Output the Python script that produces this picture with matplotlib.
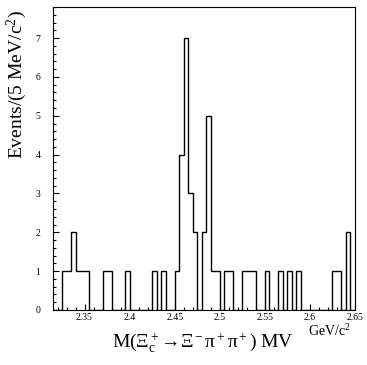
import numpy as np
import matplotlib
matplotlib.use("Agg")
import matplotlib.pyplot as plt
from matplotlib.ticker import MultipleLocator, FormatStrFormatter

plt.rcParams['font.family'] = ['Liberation Serif', 'DejaVu Serif']
plt.rcParams['mathtext.fontset'] = 'stix'

# histogramme : 67 bins de 5 MeV entre 2.315 et 2.65 GeV
x_min = 2.315
x_max = 2.65
largeur_bin = 0.005
comptes = [0, 0, 1, 1, 2, 1, 1, 1, 0, 0,
           0, 1, 1, 0, 0, 0, 1, 0, 0, 0,
           0, 0, 1, 0, 1, 0, 0, 1, 4, 7,
           3, 2, 0, 2, 5, 1, 1, 0, 1, 1,
           0, 0, 1, 1, 1, 0, 0, 1, 0, 0,
           1, 0, 1, 0, 1, 0, 0, 0, 0, 0,
           0, 0, 1, 1, 0, 2, 0]
bords = x_min + largeur_bin * np.arange(len(comptes) + 1)

fig = plt.figure(figsize=(3.67, 3.65), dpi=100)
ax = fig.add_axes([0.1444, 0.1507, 0.8229, 0.8301])

ax.stairs(comptes, bords, color='black', linewidth=1.0)

ax.set_xlim(x_min, x_max)
ax.set_ylim(0, 7.8)

ax.xaxis.set_major_locator(MultipleLocator(0.05))
ax.xaxis.set_minor_locator(MultipleLocator(0.01))
ax.xaxis.set_major_formatter(FormatStrFormatter('%g'))
ax.yaxis.set_major_locator(MultipleLocator(1))
ax.yaxis.set_minor_locator(MultipleLocator(0.2))

ax.tick_params(which='both', direction='in', top=False, right=False,
               labelsize=7, width=0.8)
ax.tick_params(which='major', length=4)
ax.tick_params(which='minor', length=2.2)
ax.tick_params(axis='x', pad=2)
ax.tick_params(axis='y', pad=9)
for s in ax.spines.values():
    s.set_linewidth(0.8)

ax.set_ylabel(r'Events/(5 MeV/c$\mathregular{^2}$)', fontsize=14, loc='top')
ax.yaxis.set_label_coords(-0.078, 0.99)
fig.text(0.955, 0.08, r'GeV/c$\mathregular{^2}$', fontsize=10,
         ha='right', va='baseline')
fig.text(0.553, 0.049,
         r'M(Ξ$\mathregular{_c^+}$→Ξ$\mathregular{^-}$π$\mathregular{^+}$π$\mathregular{^+}$) MV',
         fontsize=14, ha='center', va='baseline')

fig.savefig('out.png', dpi=100)
